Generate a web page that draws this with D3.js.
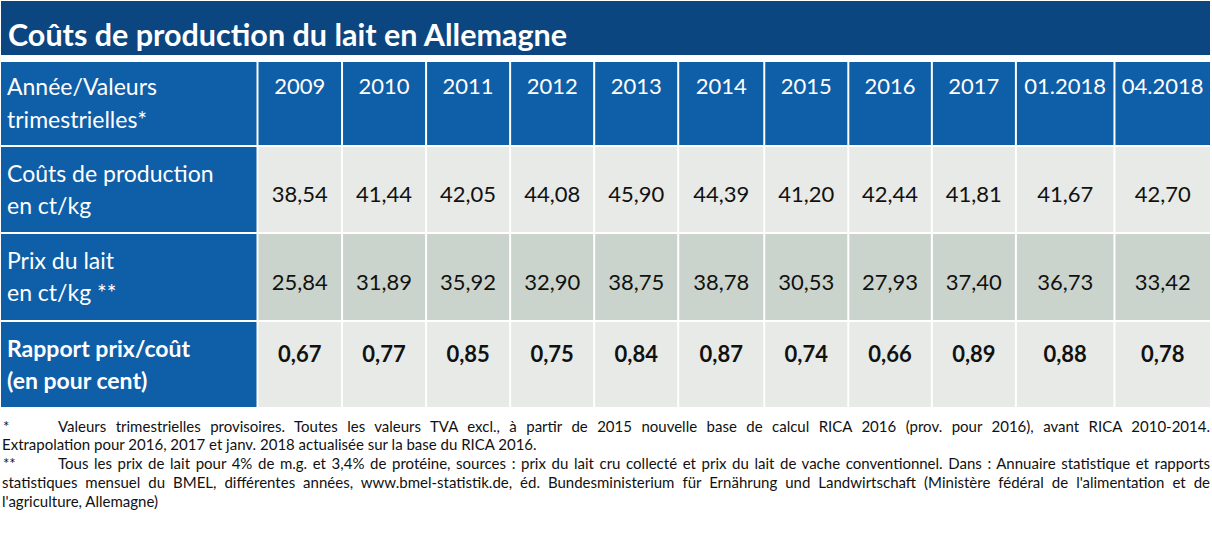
<!DOCTYPE html>
<html>
<head>
<meta charset="utf-8">
<script src="https://cdn.jsdelivr.net/npm/d3@7"></script>
<style>
  body { margin: 0; background: #fff; }
  svg { display: block; font-family: Lato, "Noto Sans", sans-serif; }
</style>
</head>
<body>
<svg id="chart" width="1212" height="540"></svg>
<script>
var title = "Coûts de production du lait en Allemagne";
var columns = ["2009", "2010", "2011", "2012", "2013", "2014", "2015", "2016", "2017", "01.2018", "04.2018"];
var headerLabel = ["Année/Valeurs", "trimestrielles*"];
var rowLabels = [
  ["Coûts de production", "en ct/kg"],
  ["Prix du lait", "en ct/kg **"],
  ["Rapport prix/coût", "(en pour cent)"]
];
var coutsProduction = [38.54, 41.44, 42.05, 44.08, 45.90, 44.39, 41.20, 42.44, 41.81, 41.67, 42.70];
var prixLait = [25.84, 31.89, 35.92, 32.90, 38.75, 38.78, 30.53, 27.93, 37.40, 36.73, 33.42];
var rapportPrixCout = [0.67, 0.77, 0.85, 0.75, 0.84, 0.87, 0.74, 0.66, 0.89, 0.88, 0.78];
var footnoteMarks = ["*", "**"];
var footnoteLines = [
  ["Valeurs trimestrielles provisoires. Toutes les valeurs TVA excl., à partir de 2015 nouvelle base de calcul RICA 2016 (prov. pour 2016), avant RICA 2010-2014.",
   "Extrapolation pour 2016, 2017 et janv. 2018 actualisée sur la base du RICA 2016."],
  ["Tous les prix de lait pour 4% de m.g. et 3,4% de protéine, sources : prix du lait cru collecté et prix du lait de vache conventionnel. Dans : Annuaire statistique et rapports",
   "statistiques mensuel du BMEL, différentes années, www.bmel-statistik.de, éd. Bundesministerium für Ernährung und Landwirtschaft (Ministère fédéral de l'alimentation et de",
   "l'agriculture, Allemagne)"]
];

// --- layout ---
var svg = d3.select("#chart");
var colWeights = [84.5, 84, 84, 84, 84, 86, 84, 83.5, 84, 98.5, 96.5];
var rowWeights = [85, 87, 88, 87];
var colEdges = [0].concat(Array.from(d3.cumsum(colWeights)));
var rowEdges = [0].concat(Array.from(d3.cumsum(rowWeights)));
var x = d3.scaleLinear().domain([0, d3.sum(colWeights)]).range([257.5, 1211]);
var y = d3.scaleLinear().domain([0, d3.sum(rowWeights)]).range([61, 408]);

var titleBlue = "#0c4680", headBlue = "#0f5ea8", textDark = "#111";
var frFormat = d3.formatLocale({decimal: ",", thousands: " ", grouping: [3], currency: ["", " €"]}).format(".2f");

var rows = [
  {label: rowLabels[0], values: coutsProduction, fill: "#e7eae6", bold: false, dy: 56},
  {label: rowLabels[1], values: prixLait, fill: "#cbd4cc", bold: false, dy: 57},
  {label: rowLabels[2], values: rapportPrixCout, fill: "#e7eae6", bold: true, dy: 41}
];

// title bar
svg.append("rect").attr("x", 1).attr("y", 1).attr("width", 1209).attr("height", 54).attr("fill", titleBlue);
svg.append("text").attr("x", 8).attr("y", 46).attr("fill", "#fff")
  .attr("font-size", 30.5).attr("font-weight", "bold").text(title);

// header row
var headTop = y(rowEdges[0]), headBot = y(rowEdges[1]);
svg.append("rect").attr("x", 1).attr("y", headTop + 1).attr("width", 255.5).attr("height", headBot - headTop - 2).attr("fill", headBlue);
svg.append("g").selectAll("text").data(headerLabel).enter().append("text")
  .attr("x", 7).attr("y", function (d, i) { return headTop + 34 + i * 33; })
  .attr("fill", "#fff").attr("font-size", 23).text(function (d) { return d; });

var head = svg.append("g").selectAll("g").data(columns).enter().append("g");
head.append("rect")
  .attr("x", function (d, i) { return x(colEdges[i]) + 1; })
  .attr("y", headTop + 1)
  .attr("width", function (d, i) { return x(colEdges[i + 1]) - x(colEdges[i]) - 2; })
  .attr("height", headBot - headTop - 2)
  .attr("fill", headBlue);
head.append("text")
  .attr("x", function (d, i) { return (x(colEdges[i]) + x(colEdges[i + 1])) / 2; })
  .attr("y", headTop + 33)
  .attr("text-anchor", "middle").attr("fill", "#fff").attr("font-size", 22)
  .text(function (d) { return d; });

// body rows
rows.forEach(function (r, ri) {
  var top = y(rowEdges[ri + 1]), bot = y(rowEdges[ri + 2]);
  var g = svg.append("g");
  g.append("rect").attr("x", 1).attr("y", top + 1).attr("width", 255.5).attr("height", bot - top - 2).attr("fill", headBlue);
  g.selectAll("text.lab").data(r.label).enter().append("text").attr("class", "lab")
    .attr("x", 7).attr("y", function (d, i) { return top + 36 + i * 32; })
    .attr("fill", "#fff").attr("font-size", 23)
    .attr("font-weight", r.bold ? "bold" : "normal")
    .text(function (d) { return d; });
  g.selectAll("rect.cell").data(r.values).enter().append("rect").attr("class", "cell")
    .attr("x", function (d, i) { return x(colEdges[i]) + 1; })
    .attr("y", top + 1)
    .attr("width", function (d, i) { return x(colEdges[i + 1]) - x(colEdges[i]) - 2; })
    .attr("height", bot - top - 2)
    .attr("fill", r.fill);
  g.selectAll("text.val").data(r.values).enter().append("text").attr("class", "val")
    .attr("x", function (d, i) { return (x(colEdges[i]) + x(colEdges[i + 1])) / 2; })
    .attr("y", top + r.dy)
    .attr("text-anchor", "middle").attr("fill", textDark).attr("font-size", 22)
    .attr("font-weight", r.bold ? "bold" : "normal")
    .text(function (d) { return frFormat(d); });
});

// footnotes, justified like the source
function justify(sel, width) {
  var spaces = (sel.text().match(/ /g) || []).length;
  var len = sel.node().getComputedTextLength();
  if (spaces > 0) sel.attr("word-spacing", (width - len) / spaces);
}

var lineY = 431.5, lineGap = 18.9, right = 1210;
footnoteLines.forEach(function (lines, fi) {
  lines.forEach(function (line, li) {
    var x0 = li === 0 ? 58 : 2;
    var t = svg.append("text").attr("x", x0).attr("y", lineY)
      .attr("fill", textDark).attr("font-size", 15).text(line);
    if (li < lines.length - 1) justify(t, right - x0);
    if (li === 0) {
      svg.append("text").attr("x", 3).attr("y", lineY).attr("fill", textDark)
        .attr("font-size", 15).text(footnoteMarks[fi]);
    }
    lineY += lineGap;
  });
});
</script>
</body>
</html>
